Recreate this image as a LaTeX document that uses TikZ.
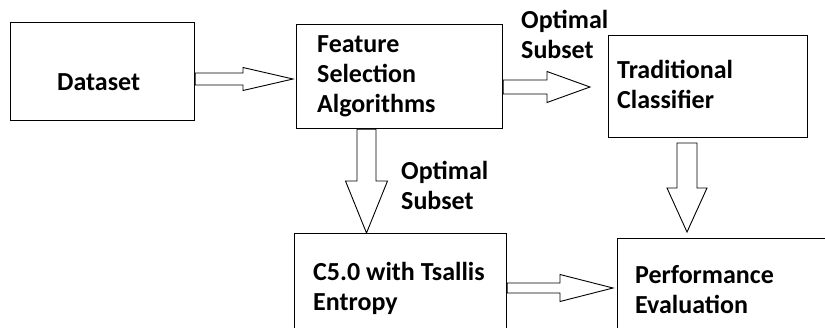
\documentclass[tikz,border=0pt]{standalone}
\usepackage{fontspec}
\setmainfont{Carlito}
\usetikzlibrary{calc}

\tikzset{
  box/.style={draw, line width=1.2pt, anchor=north west, inner sep=0pt},
  txt/.style={font=\fontsize{26}{30}\selectfont\bfseries, align=left, inner sep=0pt, anchor=base west},
  hollow/.style n args={3}{draw, fill=white, line width=0.9pt, to path={
    let \p1=($(\tikztotarget)!#3!(\tikztostart)$) in
    ($(\tikztostart)!#1!90:(\tikztotarget)$) -- ($(\p1)!#1!90:(\tikztotarget)$)
    -- ($(\p1)!#2!90:(\tikztotarget)$) -- (\tikztotarget)
    -- ($(\p1)!#2!-90:(\tikztotarget)$) -- ($(\p1)!#1!-90:(\tikztotarget)$)
    -- ($(\tikztostart)!#1!-90:(\tikztotarget)$) -- cycle}}
}

\begin{document}
\begin{tikzpicture}[x=1pt, y=-1pt]
\useasboundingbox (0,0) rectangle (825,327);
\clip (0,0) rectangle (825,327);

% boxes
\node[box, minimum width=184pt, minimum height=98pt] (ds) at (10,22) {};
\node[box, minimum width=206pt, minimum height=104pt] (fs) at (296,24) {};
\node[box, minimum width=199pt, minimum height=102pt] (tc) at (608,35) {};
\node[box, minimum width=212pt, minimum height=120pt] (c5) at (294,233) {};
\node[box, minimum width=230pt, minimum height=120pt] (pe) at (617,238) {};

% texts (anchored at the last line)
\node[txt] (dstxt) at (57,90) {Dataset};
\node[txt] (fstxt) at (317,112) {Feature\\Selection\\Algorithms};
\node[txt] (tctxt) at (617,108) {Traditional\\Classifier};
\node[txt] (c5txt) at (313,310) {C5.0 with Tsallis\\Entropy};
\node[txt] (petxt) at (635,313) {Performance\\Evaluation};
\node[txt] (opt1) at (521,58) {Optimal\\Subset};
\node[txt] (opt2) at (401,209) {Optimal\\Subset};

% arrow ends
\coordinate (t1) at (293,79);
\coordinate (t2) at (590,87);
\coordinate (t3) at (366.5,233);
\coordinate (s4) at (687,143);
\coordinate (t4) at (687,232);
\coordinate (t5) at (613,288);

\draw[hollow={6pt}{11.5pt}{50pt}] (ds.east |- t1) to (t1);
\draw[hollow={7pt}{15.5pt}{43pt}] (fs.east |- t2) to (t2);
\draw[hollow={9.5pt}{21pt}{52pt}] (t3 |- fs.south) to (t3);
\draw[hollow={10pt}{20pt}{44pt}] (s4) to (t4);
\draw[hollow={5pt}{13.5pt}{53pt}] (c5.east |- t5) to (t5);
\end{tikzpicture}
\end{document}
